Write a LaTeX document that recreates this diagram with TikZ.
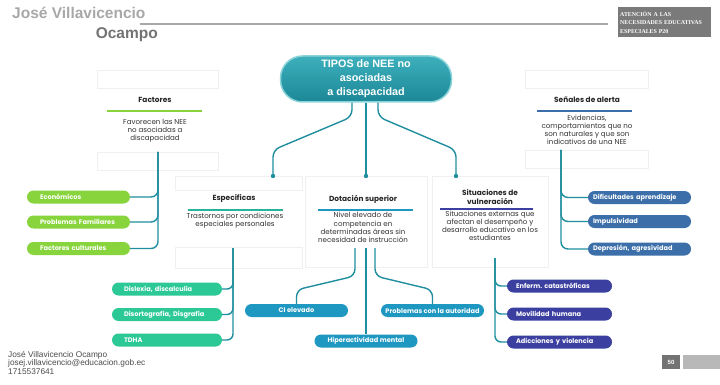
\documentclass[tikz,border=0pt]{standalone}
\usepackage{fontspec}
\setmainfont{Liberation Sans}
\newfontfamily\mapfont{Poppins}
\newfontfamily\tagfont{Liberation Serif}
\usetikzlibrary{calc,shadows}

\definecolor{linkteal}{HTML}{1F8E9F}
\definecolor{tiposlight}{HTML}{3DB0BC}
\definecolor{tiposdark}{HTML}{1C8797}
\definecolor{tiposrim}{HTML}{8AD4DA}
\definecolor{factgreen}{HTML}{88D43C}
\definecolor{espgreen}{HTML}{2CC996}
\definecolor{espbar}{HTML}{26B59C}
\definecolor{dotblue}{HTML}{1F98C1}
\definecolor{sitviolet}{HTML}{3B3F9F}
\definecolor{senblue}{HTML}{3C6FA9}
\definecolor{headgray}{HTML}{A8A8A8}
\definecolor{tagfill}{HTML}{7A7A7A}

\tikzset{
  card/.style={rectangle, fill=white, draw=black!6, inner sep=0pt,
    drop shadow={shadow xshift=0.8pt, shadow yshift=-0.8pt, opacity=0.1}},
  cardtitle/.style={font=\mapfont\bfseries\fontsize{7.4}{9}\selectfont, align=center, text=black!85, inner sep=0pt},
  carddesc/.style={font=\mapfont\fontsize{7.1}{8.2}\selectfont, align=center, text=black!80, inner sep=0pt},
  bar/.style={line width=2.6pt},
  link/.style={draw=linkteal, line width=1.4pt, rounded corners=7pt},
  pill/.style={rectangle, rounded corners=6.5pt, minimum height=13pt, inner ysep=0pt,
    text=white, font=\mapfont\bfseries\fontsize{6.6}{8}\selectfont, align=left},
  factpill/.style={pill, fill=factgreen, inner xsep=13pt, text width=77pt},
  esppill/.style={pill, fill=espgreen, inner xsep=12pt, text width=86pt},
  dotpill/.style={pill, fill=dotblue, inner xsep=2pt, minimum width=103pt, align=center},
  sitpill/.style={pill, fill=sitviolet, inner xsep=9pt, text width=87pt},
  senpill/.style={pill, fill=senblue, inner xsep=5pt, text width=93pt},
}

\begin{document}
\frenchspacing
\begin{tikzpicture}[x=1pt, y=-1pt]
  \fill[white] (0,0) rectangle (720,385);
  \useasboundingbox (0,0) rectangle (720,385);

  % header
  \node[anchor=base west, text=headgray, font=\bfseries\fontsize{15.5}{18}\selectfont, inner sep=0pt] (nombre) at (12,19) {José Villavicencio};
  \node[anchor=base east, text=black!55, font=\bfseries\fontsize{15.5}{18}\selectfont, inner sep=0pt] (apellido) at (158,39) {Ocampo};
  \draw[headgray, line width=1.2pt] (nombre.base east |- 0,24) ++(-6,0) -- (608,24);
  \node[anchor=north west, fill=tagfill, text=white, font=\tagfont\bfseries\fontsize{5.9}{8.3}\selectfont,
    align=left, text width=89pt, minimum height=30pt, inner sep=2pt] (tag) at (618,7) {ATENCIÓN A LAS\\NECESIDADES EDUCATIVAS\\ESPECIALES P20};

  % cards
  \node[card, minimum width=121pt, minimum height=18pt] (facttop) at (157.5,79) {};
  \node[card, minimum width=121pt, minimum height=18pt] (factbot) at (157.5,161) {};
  \node[card, minimum width=123pt, minimum height=18pt] (sentop) at (586.5,79) {};
  \node[card, minimum width=123pt, minimum height=18pt] (senbot) at (586.5,159) {};
  \node[card, minimum width=127pt, minimum height=14pt] (esptop) at (238.5,183) {};
  \node[card, minimum width=127pt, minimum height=21pt] (espbot) at (238.5,257.5) {};
  \node[card, minimum width=122pt, minimum height=91pt] (dotcard) at (366,221.5) {};
  \node[card, minimum width=116pt, minimum height=91pt] (sitcard) at (490,221.5) {};

  \node[cardtitle] (facttitle) at (155,100) {Factores};
  \node[cardtitle] (sentitle) at (587,100) {Señales de alerta};
  \node[cardtitle] (esptitle) at (234,199) {Especificas};
  \node[cardtitle] (dottitle) at (363,199) {Dotación superior};
  \node[cardtitle] (sittitle) at (490,197.5) {Situaciones de\\vulneración};

  \draw[bar, factgreen] (107,111) -- (202,111);
  \draw[bar, senblue] (537,111) -- (632,111);
  \draw[bar, espbar] (188,210) -- (283,210);
  \draw[bar, dotblue] (318,210) -- (413,210);
  \draw[bar, sitviolet] (440,209) -- (533,209);

  \node[carddesc] (factdesc) at (155,130.5) {Favorecen las NEE\\no asociadas a\\discapacidad};
  \node[carddesc] (sendesc) at (587,130) {Evidencias,\\comportamientos que no\\son naturales y que son\\indicativos de una NEE};
  \node[carddesc] (espdesc) at (235,221) {Trastornos por condiciones\\especiales personales};
  \node[carddesc] (dotdesc) at (363,227.5) {Nivel elevado de\\competencia en\\determinadas áreas sin\\necesidad de instrucción};
  \node[carddesc] (sitdesc) at (490,226) {Situaciones externas que\\afectan el desempeño y\\desarrollo educativo en los\\estudiantes};

  % central node
  \node[rectangle, rounded corners=22pt, minimum width=171pt, minimum height=46pt,
    top color=tiposlight, bottom color=tiposdark, draw=tiposrim, line width=1.5pt,
    text=white, font=\bfseries\fontsize{10.8}{14}\selectfont, align=center] (tipos) at (366,79)
    {TIPOS de NEE no\\asociadas\\a discapacidad};

  \coordinate (espin) at (273,176);
  \coordinate (dotin) at (366,176);
  \coordinate (sitin) at (456,176);
  \draw[link] ($(tipos.south)+(-14,0)$) -- ++(0,14) -- (273,150) -- (espin);
  \draw[link] (tipos.south) -- (dotin);
  \draw[link] ($(tipos.south)+(12,0)$) -- ++(0,14) -- (456,150) -- (sitin);
  \foreach \c in {espin,dotin,sitin}
    \fill[linkteal] (\c) circle (2.2pt);

  % pills
  \node[factpill] (econ) at (78.5,197) {Económicos};
  \node[factpill] (famil) at (78.5,222) {Problemas Familiares};
  \node[factpill] (cult) at (78.5,248.5) {Factores culturales};
  \node[senpill] (dific) at (639.5,197.5) {Dificultades aprendizaje};
  \node[senpill] (impul) at (639.5,221.5) {Impulsividad};
  \node[senpill] (depre) at (639.5,249) {Depresión, agresividad};
  \node[esppill] (disl) at (167,289) {Dislexia, discalculia};
  \node[esppill] (diso) at (167,314.5) {Disortografía, Disgrafía};
  \node[esppill] (tdha) at (167,340) {TDHA};
  \node[dotpill] (ci) at (296.5,310.5) {CI elevado};
  \node[dotpill] (autorid) at (432.5,310.5) {Problemas con la autoridad};
  \node[dotpill] (hiper) at (366,341) {Hiperactividad mental};
  \node[sitpill] (enfer) at (559.5,286) {Enferm. catastróficas};
  \node[sitpill] (movil) at (559.5,314) {Movilidad humana};
  \node[sitpill] (adicc) at (559.5,342) {Adicciones y violencia};

  % branches
  \coordinate (facttrunk) at (158,152);
  \foreach \p in {econ,famil,cult}
    \draw[link] (facttrunk) |- (\p.east);
  \coordinate (sentrunk) at (561,150);
  \foreach \p in {dific,impul,depre}
    \draw[link] (sentrunk) |- (\p.west);
  \coordinate (esptrunk) at (233,248);
  \foreach \p in {disl,diso,tdha}
    \draw[link, rounded corners=6pt] (esptrunk) |- (\p.east);
  \coordinate (sittrunk) at (495,258);
  \foreach \p in {enfer,movil,adicc}
    \draw[link, rounded corners=6pt] (sittrunk) |- (\p.west);

  \coordinate (dotleft) at (355,248);
  \coordinate (dotmid) at (366,248);
  \coordinate (dotright) at (375,248);
  \draw[link] (dotleft) -- (355,276) -- ($(ci.north)+(0,-14)$) -- (ci.north);
  \draw[link] (dotmid) -- (hiper.north);
  \draw[link] (dotright) -- (375,276) -- ($(autorid.north)+(0,-14)$) -- (autorid.north);

  % footer
  \node[anchor=north west, font=\fontsize{8.3}{8.6}\selectfont, text=black!70, align=left, inner sep=0pt] (pie) at (8,351)
    {José Villavicencio Ocampo\\josej.villavicencio@educacion.gob.ec\\1715537641};
  \node[fill=black!55, text=white, font=\bfseries\fontsize{6}{7}\selectfont, minimum width=18pt, minimum height=14pt, inner sep=0pt] (pagina) at (671,362) {50};
  \fill[black!28] (683,355) rectangle (720,369);
\end{tikzpicture}
\end{document}
